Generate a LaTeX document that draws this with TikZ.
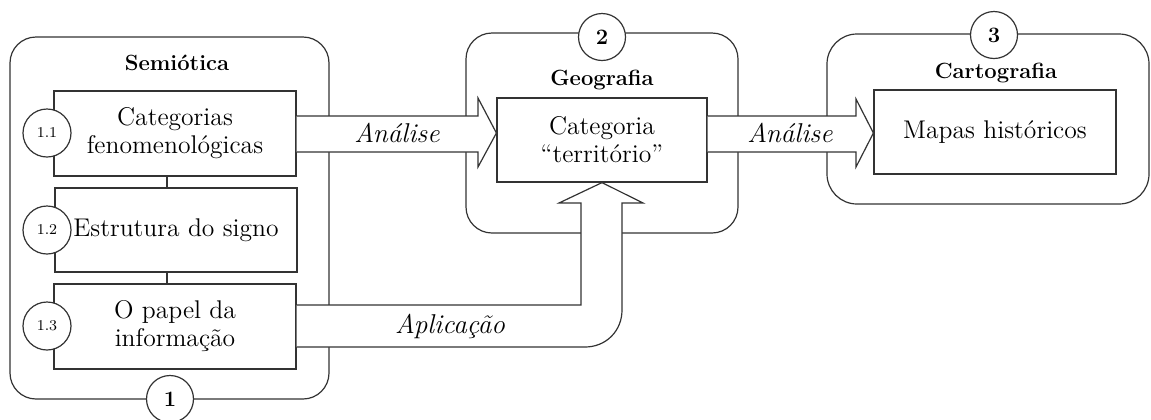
\documentclass[tikz,border=0pt]{standalone}
\definecolor{lc}{HTML}{333333}
\begin{document}
\begin{tikzpicture}[x=0.5pt,y=-0.5pt,line width=0.6pt,
  container/.style={draw=lc,rounded corners=13pt,inner sep=0pt},
  boxnode/.style={draw=lc,fill=white,inner sep=0pt,align=center,font=\fontsize{12.8}{14}\selectfont},
  num/.style={circle,draw=lc,fill=white,inner sep=0pt,minimum size=24pt,font=\fontsize{7.5}{9}\selectfont},
  bignum/.style={num,minimum size=23.5pt,font=\bfseries\fontsize{11}{13}\selectfont},
  titlenode/.style={font=\bfseries\fontsize{11}{14}\selectfont},
  lab/.style={font=\itshape\fontsize{13.6}{14}\selectfont},
  band/.style={draw=lc,fill=white,line join=miter}]
\useasboundingbox (0,0) rectangle (1151,419);
% containers
\node[container,minimum width=159.5pt,minimum height=181pt] (c1) at (169.5,218) {};
\node[container,minimum width=136pt,minimum height=100pt] (c2) at (602,133) {};
\node[container,rounded corners=15pt,minimum width=161pt,minimum height=85pt] (c3) at (988,119) {};
% titles
\node[titlenode] (t1) at (177,63) {Semiótica};
\node[titlenode] (t2) at (602,80) {Geografia};
\node[titlenode] (t3) at (996,73) {Cartografia};
% boxes
\node[boxnode,minimum width=121pt,minimum height=42.5pt] (b11) at (175,133.5) {Categorias\\fenomenológicas};
\node[boxnode,minimum width=121pt,minimum height=42pt] (b12) at (176,230) {Estrutura do signo};
\node[boxnode,minimum width=121pt,minimum height=42.5pt] (b13) at (175,326.5) {O papel da\\informação};
\node[boxnode,minimum width=105pt,minimum height=42pt] (cat) at (602,140) {Categoria\\``território''};
\node[boxnode,minimum width=121pt,minimum height=42pt] (map) at (995,132) {Mapas históricos};
% links between boxes
\draw[lc] ([xshift=-4pt]b11.south) -- ([xshift=-4.5pt]b12.north);
\draw[lc] ([xshift=-4.5pt]b12.south) -- ([xshift=-4pt]b13.north);
% arrows
\filldraw[band] (b11.east |- 0,116) -- (478,116) -- (478,98) -- (cat.west |- 0,133) -- (478,167) -- (478,152) -- (b11.east |- 0,152);
\filldraw[band] (cat.east |- 0,116) -- (856,116) -- (856,99) -- (map.west |- 0,133) -- (856,167) -- (856,152) -- (cat.east |- 0,152);
\filldraw[band] (b13.east |- 0,305) -- (581,305) -- (581,203) -- (559,203) -- (cat.south) -- (643,203) -- (622,203) -- (622,310) .. controls (622,331) and (606,347) .. (585,347) -- (b13.east |- 0,347);
% labels
\node[lab] (a1) at (397,133) {Análise};
\node[lab] (a2) at (790,133) {Análise};
\node[lab] (ap) at (450,326) {Aplicação};
% numbers
\node[num] (n11) at (47,133) {1.1};
\node[num] (n12) at (47,230) {1.2};
\node[num] (n13) at (47,326) {1.3};
\node[bignum] (n1) at (170,399) {1};
\node[bignum] (n2) at (602,37) {2};
\node[bignum] (n3) at (994,35) {3};
\end{tikzpicture}
\end{document}
